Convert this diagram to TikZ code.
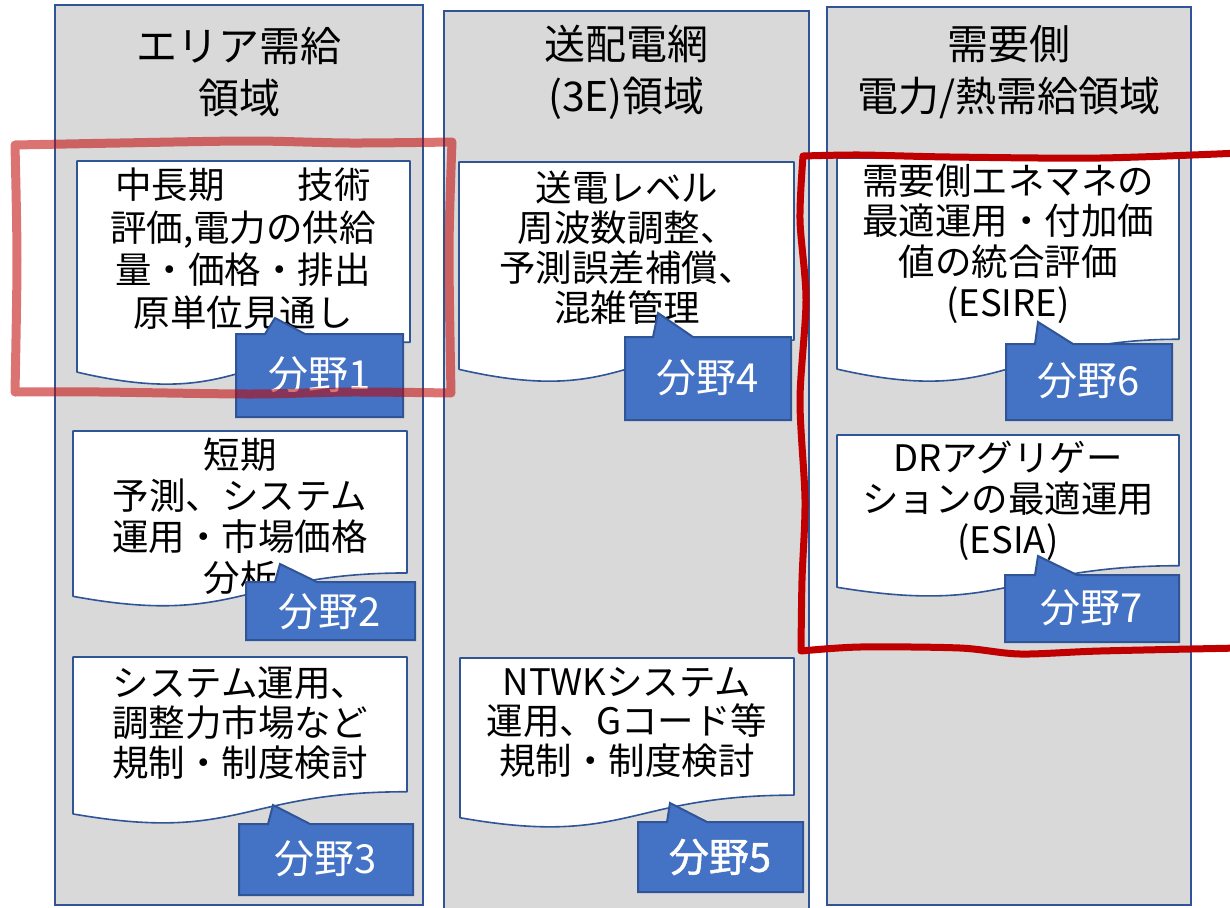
\documentclass[tikz,border=0pt]{standalone}
\usepackage{fontspec}
\setmainfont{Noto Sans CJK JP}
\newfontfamily\boldjp[FakeBold=1.2]{Noto Sans CJK JP}
\definecolor{cgray}{HTML}{D9D9D9}
\definecolor{cborder}{HTML}{2F5597}
\definecolor{cblue}{HTML}{4472C4}
\definecolor{cred}{HTML}{C00000}
\tikzset{
  col/.style={draw=cborder, fill=cgray, line width=2pt},
  docbox/.style={draw=cborder, fill=white, line width=1.6pt, line join=round},
  callbox/.style={draw=cborder, fill=cblue, line width=2pt, line join=miter},
  doctext/.style={align=center, inner sep=0pt, font=\fontsize{36.5}{41}\selectfont},
  calltext/.style={inner sep=0pt, text=white, font=\fontsize{40}{44}\selectfont},
  titletext/.style={align=center, inner sep=0pt, font=\fontsize{41}{52}\selectfont},
  redlight/.style={draw=cred, draw opacity=0.55, line width=9pt, line join=round, line cap=round},
  reddark/.style={draw=cred, line width=7pt, line join=round},
}
% document shape: x1, y1, x2, h
\newcommand\docshape[4]{%
  \draw[docbox] (#1,#2) -- (#3,#2) -- (#3,{#2+0.802*#4})
    .. controls ({(#1+#3)/2},{#2+0.802*#4}) and ({(#1+#3)/2},{#2+1.1075*#4}) ..
    (#1,{#2+0.934*#4}) -- cycle;}
% callout: x1,y1,x2,y2, base1, base2, tipx, tipy
\newcommand\callshape[8]{%
  \draw[callbox] (#1,#2) -- (#5,#2) -- (#7,#8) -- (#6,#2) -- (#3,#2) -- (#3,#4) -- (#1,#4) -- cycle;}
\begin{document}
\begin{tikzpicture}[x=1pt,y=-1pt]
\useasboundingbox (0,0) rectangle (1230,907);
\clip (0,0) rectangle (1230,907);
\fill[white] (0,0) rectangle (1230,907);

% columns
\draw[col] (55,5) rectangle (423,905);
\draw[col] (444,11) rectangle (809,912);
\draw[col] (827,7) rectangle (1191,905);

\node[titletext] (t1) at (239,72) {エリア需給\\領域};
\node[titletext] (t2) at (626.5,72) {送配電網\\(3E)領域};
\node[titletext] (t3) at (1009,72) {需要側\\電力/熱需給領域};

% column 1
\docshape{77}{161}{410}{226}
\node[doctext, font=\fontsize{36.5}{42.5}\selectfont] (d1) at (243,248.5) {中長期　　技術\\評価,電力の供給\\量・価格・排出\\原単位見通し};
\callshape{236}{334}{403}{417}{265}{305}{275}{318}
\node[calltext] (c1) at (320,375) {分野1};

\docshape{73}{431}{407}{177}
\node[doctext] (d2) at (240,516.5) {短期\\予測、システム\\運用・市場価格\\分析};
\callshape{246}{582}{415}{640}{275}{317}{280}{564}
\node[calltext] (c2) at (330,612) {分野2};

\docshape{73}{657}{407}{168}
\node[doctext, font=\fontsize{36.5}{40}\selectfont] (d3) at (240,723) {システム運用、\\調整力市場など\\規制・制度検討};
\callshape{239}{824}{413}{895}{268}{310}{273}{805}
\node[calltext] (c3) at (326,859) {分野3};

% column 2
\docshape{459}{162}{794}{222}
\node[doctext, font=\fontsize{36.5}{40}\selectfont] (d4) at (627,247.5) {送電レベル\\周波数調整、\\予測誤差補償、\\混雑管理};
\callshape{625}{337}{791}{420}{653}{693}{658}{313}
\node[calltext] (c4) at (708,378) {分野4};

\docshape{460}{658}{794}{171}
\node[doctext, font=\fontsize{36.5}{39.5}\selectfont] (d5) at (627,722.5) {NTWKシステム\\運用、Gコード等\\規制・制度検討};
\callshape{638}{822}{803}{892}{667}{707}{670}{803}
\node[calltext, font=\boldjp\fontsize{40}{44}\selectfont] (c5) at (720,857) {分野5};

% column 3
\docshape{837}{158}{1179}{226}
\node[doctext, font=\fontsize{36.5}{40.7}\selectfont] (d6) at (1008,243.5) {需要側エネマネの\\最適運用・付加価\\値の統合評価\\(ESIRE)};
\callshape{1006}{344}{1172}{420}{1035}{1073}{1038}{322}
\node[calltext] (c6) at (1089,381) {分野6};

\docshape{837}{435}{1179}{163}
\node[doctext] (d7) at (1008,501) {DRアグリゲー\\ションの最適運用\\(ESIA)};
\callshape{1005}{575}{1179}{642}{1035}{1077}{1038}{556}
\node[calltext] (c7) at (1092,608) {分野7};

% highlight frames
\draw[redlight] plot[smooth, tension=0.5] coordinates {(15,145) (120,143) (250,141) (350,143) (452,142)}
  -- plot[smooth, tension=0.5] coordinates {(452,142) (449,250) (451,393)}
  -- plot[smooth, tension=0.5] coordinates {(451,393) (350,392) (250,394) (100,392) (15,392)}
  -- plot[smooth, tension=0.5] coordinates {(15,392) (17,260) (15,145)};

\draw[reddark] plot[smooth, tension=0.5] coordinates {(1240,153) (1100,158) (950,157) (860,155) (803,156)}
  -- plot[smooth, tension=0.5] coordinates {(803,156) (800,220) (806,300) (800,400) (805,500) (802,580) (801,651)}
  -- plot[smooth, tension=0.5] coordinates {(801,651) (860,647) (960,648) (1020,654) (1100,651) (1240,648)};
\end{tikzpicture}
\end{document}
